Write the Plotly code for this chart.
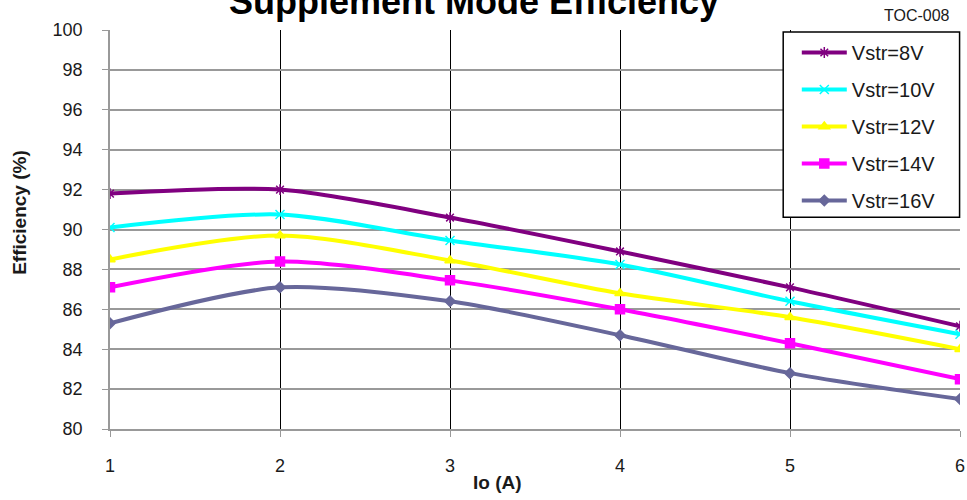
import plotly.graph_objects as go

io_a = [1, 2, 3, 4, 5, 6]
eff_8v = [91.8, 92.0, 90.6, 88.9, 87.1, 85.15]
eff_10v = [90.1, 90.75, 89.45, 88.25, 86.4, 84.75]
eff_12v = [88.5, 89.7, 88.45, 86.8, 85.6, 84.0]
eff_14v = [87.1, 88.4, 87.45, 86.0, 84.3, 82.5]
eff_16v = [85.3, 87.1, 86.4, 84.7, 82.8, 81.5]
series_names = ["Vstr=8V", "Vstr=10V", "Vstr=12V", "Vstr=14V", "Vstr=16V"]
series_vals = [eff_8v, eff_10v, eff_12v, eff_14v, eff_16v]
colors = ["#800080", "#00FFFF", "#FFFF00", "#FF00FF", "#67679A"]
symbols = ["asterisk-open", "x-thin-open", "triangle-up", "square", "diamond"]
sizes = [9, 9, 9, 9, 8]
y_ticks = list(range(80, 101, 2))
x_ticks = [1, 2, 3, 4, 5, 6]

FONT = "Liberation Sans"

fig = go.Figure()
for name, vals, c, s, sz in zip(series_names, series_vals, colors, symbols, sizes):
    fig.add_trace(go.Scatter(
        x=io_a, y=vals, name=name, legendgroup=name,
        mode="lines+markers",
        line=dict(color=c, width=4, shape="spline", smoothing=0.8),
        marker=dict(symbol=s, size=sz, color=c, line=dict(color=c, width=1.5)),
    ))

fig.update_layout(
    width=967, height=500,
    margin=dict(l=110, r=7, t=30, b=71),
    paper_bgcolor="white", plot_bgcolor="white",
    font=dict(family=FONT, size=18, color="#1a1a1a"),
    showlegend=True,
    legend=dict(
        x=0.808, y=0.9925, xanchor="left", yanchor="top",
        bgcolor="rgba(0,0,0,0)", borderwidth=0,
        font=dict(family=FONT, size=20, color="#1a1a1a"),
        tracegroupgap=8, itemwidth=45,
    ),
    xaxis=dict(
        range=[1, 6], tickvals=x_ticks,
        showgrid=True, gridcolor="black", gridwidth=1,
        showline=True, linecolor="#999999", linewidth=1.5,
        ticks="outside", ticklen=6, tickcolor="#999999",
        ticklabelstandoff=14, automargin=False,
        zeroline=False,
    ),
    yaxis=dict(
        range=[80, 100], tickvals=y_ticks,
        showgrid=True, gridcolor="#999999", gridwidth=1.5,
        showline=True, linecolor="#999999", linewidth=1.5,
        ticks="outside", ticklen=6, tickcolor="#999999",
        ticklabelstandoff=16, automargin=False,
        zeroline=False,
    ),
    shapes=[dict(type="rect", xref="paper", yref="paper",
                 x0=0.792, x1=0.9995, y0=0.531, y1=0.995,
                 line=dict(color="black", width=1.5), fillcolor="white", layer="above")],
    annotations=[
        dict(text="<b>Supplement Mode Efficiency</b>", xref="paper", yref="paper",
             x=0.428, y=1.071, xanchor="center", yanchor="middle", showarrow=False,
             font=dict(family=FONT, size=36, color="black")),
        dict(text="TOC-008", xref="paper", yref="paper",
             x=0.991, y=1.037, xanchor="right", yanchor="middle", showarrow=False,
             font=dict(family=FONT, size=16, color="#1a1a1a")),
        dict(text="<b>Efficiency (%)</b>", xref="paper", yref="paper",
             x=-0.106, y=0.544, xanchor="center", yanchor="middle", showarrow=False,
             textangle=-90, font=dict(family=FONT, size=19, color="#1a1a1a")),
        dict(text="<b>Io (A)</b>", xref="paper", yref="paper",
             x=0.456, y=-0.135, xanchor="center", yanchor="middle", showarrow=False,
             font=dict(family=FONT, size=19, color="#1a1a1a")),
    ],
)

fig.write_html("out.html", config={"displayModeBar": False},
               post_script="document.body.style.margin='0';")
